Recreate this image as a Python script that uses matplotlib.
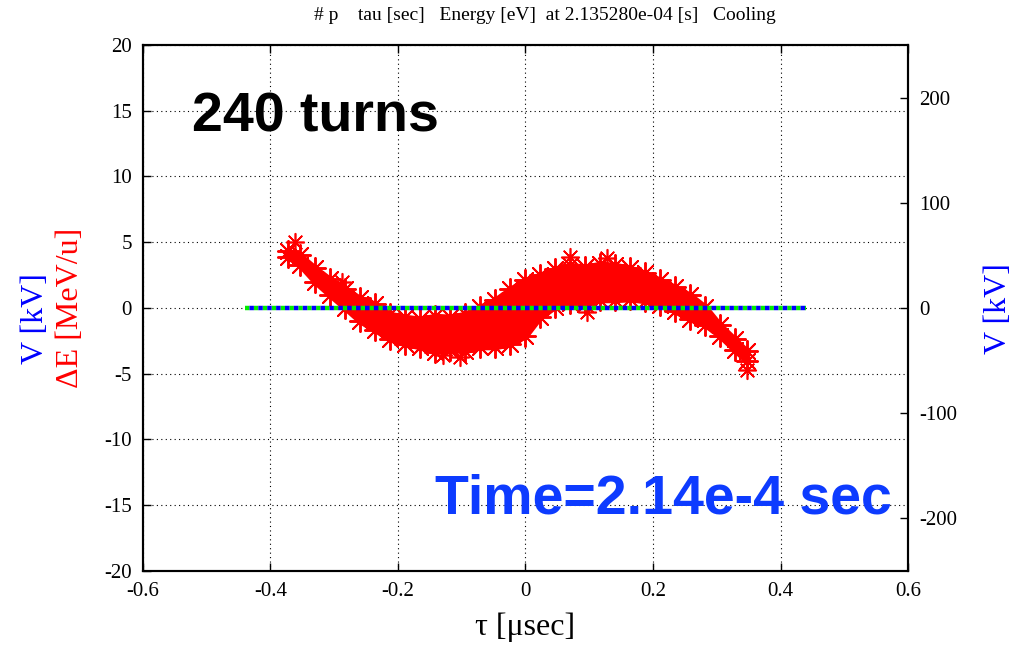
import matplotlib
matplotlib.use("Agg")
import matplotlib.pyplot as plt

# ── data ─────────────────────────────────────────────────────────────────────
# particle band: tau [usec] stations with upper / lower edge of dE [MeV/u]
tau = [-0.3725, -0.354, -0.330, -0.307, -0.283, -0.260, -0.236, -0.213,
       -0.189, -0.165, -0.142, -0.118, -0.095, -0.071, -0.048, -0.024,
       0.000, 0.023, 0.046, 0.070, 0.093, 0.117, 0.140, 0.164,
       0.187, 0.211, 0.234, 0.258, 0.282, 0.305, 0.328, 0.347]
de_upper = [4.33, 4.03, 3.04, 2.20, 1.44, 0.76, 0.30, -0.46,
            -0.68, -0.84, -0.61, -0.68, -0.46, 0.08, 0.61, 1.44,
            2.13, 2.51, 2.97, 3.27, 3.12, 3.35, 3.27, 3.04,
            2.66, 2.13, 1.60, 0.99, 0.08, -1.29, -2.36, -3.27]
de_lower = [3.88, 3.27, 1.98, 0.99, 0.00, -0.99, -1.67, -2.36,
            -2.74, -2.97, -3.35, -3.19, -3.27, -2.97, -2.97, -2.74,
            -2.13, -0.68, 0.08, 0.38, 0.30, 0.61, 0.61, 0.68,
            0.53, 0.23, -0.23, -0.84, -1.29, -2.13, -3.19, -4.03]
# a few isolated particles sticking out of the band
stray_tau = [-0.361, 0.070, 0.128, -0.103, 0.096, 0.347, -0.129, -0.288]
stray_de = [5.02, 3.88, 3.80, -3.73, -0.30, -4.71, -3.57, 1.98]

# RF voltage traces [kV] (right axis)
v_tau = [-0.44, 0.44]
v_green = [0.0, 0.0]
v_blue = [0.0, 0.0]

xticks = [-0.6, -0.4, -0.2, 0, 0.2, 0.4, 0.6]
yticks = [-20, -15, -10, -5, 0, 5, 10, 15, 20]
y2ticks = [-200, -100, 0, 100, 200]

# ── figure ───────────────────────────────────────────────────────────────────
serif = ["Liberation Serif", "DejaVu Serif"]
sans = ["Liberation Sans", "DejaVu Sans"]
plt.rcParams["font.family"] = serif

fig = plt.figure(figsize=(10.33, 6.51), dpi=100)
ax = fig.add_axes([0.1384, 0.1229, 0.7406, 0.808])
ax2 = ax.twinx()

ax.set_xlim(-0.6, 0.6)
ax.set_ylim(-20, 20)
ax2.set_ylim(-250, 250)

ax.set_xticks(xticks)
ax.set_xticklabels(["-0.6", "-0.4", "-0.2", "0", "0.2", "0.4", "0.6"])
ax.set_yticks(yticks)
ax.set_yticklabels([str(v) for v in yticks])
ax2.set_yticks(y2ticks)
ax2.set_yticklabels([str(v) for v in y2ticks])

ax.grid(True, color="black", linestyle=(0, (1, 3)), linewidth=0.8)
ax.tick_params(direction="in", length=6, width=1, labelsize=15,
               top=True, right=False, pad=8)
ax2.tick_params(direction="in", length=6, width=1, labelsize=15, pad=8)
for a in (ax, ax2):
    for sp in a.spines.values():
        sp.set_linewidth(1.5)

# particles
star = (8, 2, 0)
ax.fill_between(tau, de_lower, de_upper, facecolor="red", edgecolor="red",
                linewidth=4, zorder=2)
for ys in (de_upper, de_lower):
    ax.scatter(tau, ys, marker=star, s=230, color="red", linewidths=1.4, zorder=3)
ax.scatter(stray_tau, stray_de, marker=star, s=160, color="red", linewidths=1.2, zorder=3)

# voltage lines on the right axis (green under blue, dashes offset)
ax2.plot(v_tau, v_green, color="#00ee00", linewidth=3.2, zorder=4,
         linestyle=(0, (1.0, 1.0)))
ax2.plot(v_tau, v_blue, color="blue", linewidth=3.2, zorder=5,
         linestyle=(1.0, (1.0, 1.0)))

# labels
ax.set_xlabel("τ [μsec]", fontsize=23, labelpad=8)
fig.text(0.034, 1 - 319 / 651, "V [kV]", color="blue", fontsize=23,
         rotation=90, ha="center", va="center")
fig.text(0.068, 1 - 308 / 651, "ΔE [MeV/u]", color="red", fontsize=23,
         rotation=90, ha="center", va="center")
fig.text(998 / 1033, 1 - 309 / 651, "V [kV]", color="blue", fontsize=23,
         rotation=90, ha="center", va="center")
fig.text(545 / 1033, 1 - 16 / 651,
         "# p    tau [sec]   Energy [eV]  at 2.135280e-04 [s]   Cooling",
         fontsize=14, ha="center", va="center")

ax.text(-0.523, 13.4, "240 turns", family=sans, fontweight="bold",
        fontsize=40, ha="left", va="baseline", zorder=6)
ax.text(0.575, -15.6, "Time=2.14e-4 sec", family=sans, fontweight="bold",
        fontsize=40, color="#0d3bff", ha="right", va="baseline", zorder=6)

fig.savefig("out.png", dpi=100)
